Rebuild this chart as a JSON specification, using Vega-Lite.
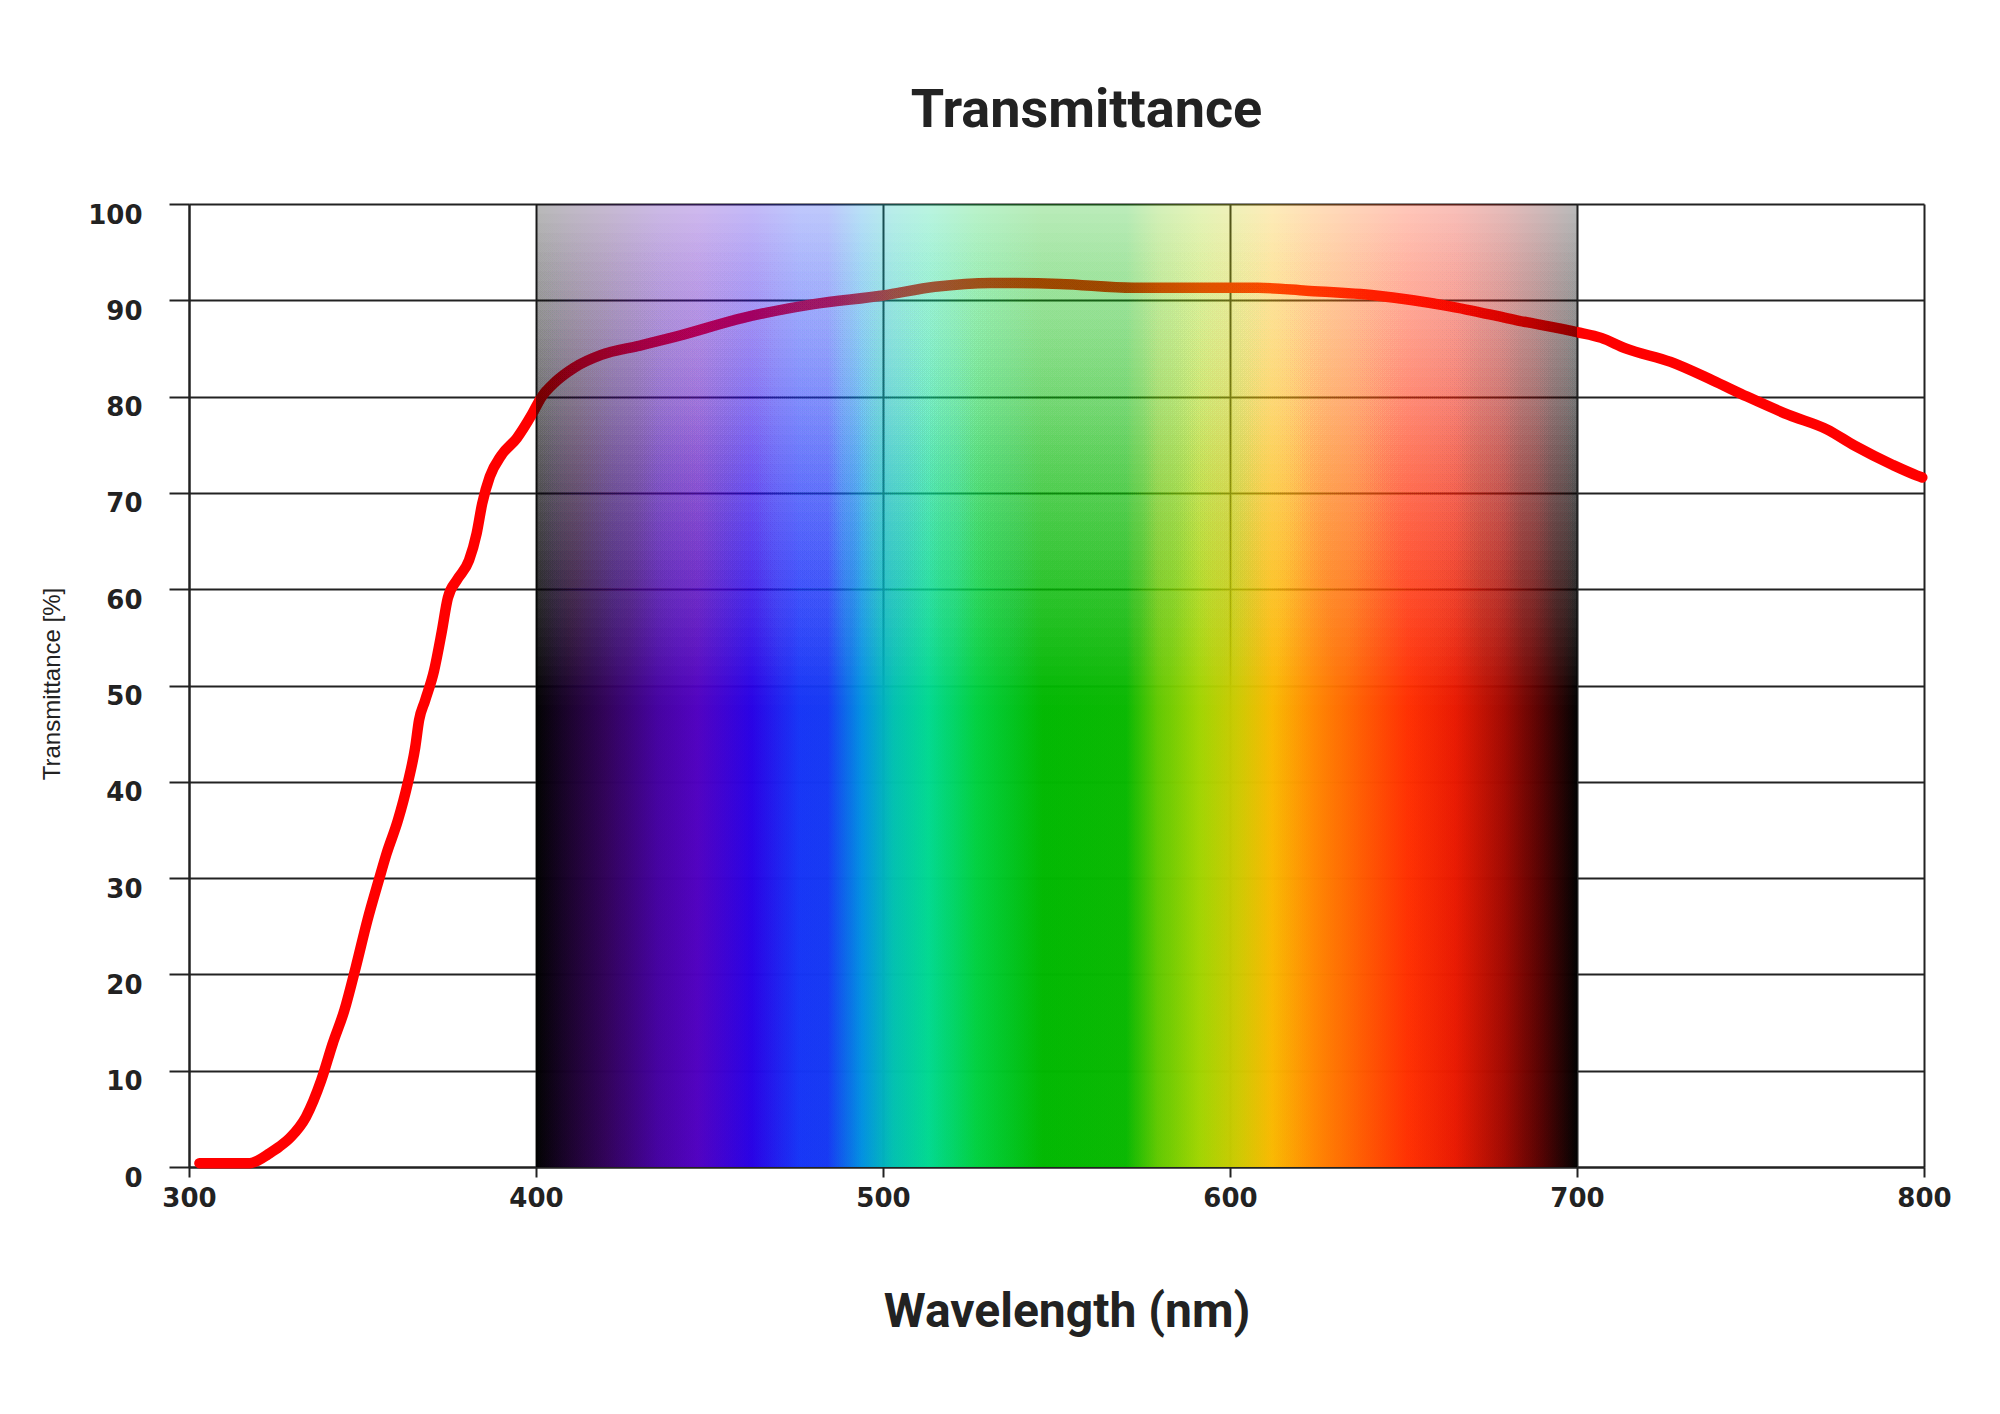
{
  "$schema": "https://vega.github.io/schema/vega-lite/v6.json",
  "description": "Transmittance curve over the visible spectrum.",
  "width": 1735,
  "height": 963,
  "autosize": {"type": "none"},
  "padding": {"left": 189, "top": 204, "right": 76, "bottom": 247},
  "background": "white",
  "title": {
    "text": "Transmittance",
    "font": "Roboto",
    "fontSize": 54,
    "fontWeight": "bold",
    "color": "#222222",
    "anchor": "middle",
    "dx": 30,
    "offset": 64
  },
  "datasets": {
    "curve": [
      {"wl": 303, "t": 0.4}, {"wl": 310, "t": 0.4}, {"wl": 317.5, "t": 0.4},
      {"wl": 320, "t": 0.7}, {"wl": 322.7, "t": 1.3}, {"wl": 326, "t": 2.1},
      {"wl": 329.3, "t": 3.1}, {"wl": 333.7, "t": 5.2}, {"wl": 338.1, "t": 9},
      {"wl": 341.4, "t": 12.8}, {"wl": 344.8, "t": 16.3}, {"wl": 348.1, "t": 20.8},
      {"wl": 351.4, "t": 25.6}, {"wl": 354.7, "t": 29.8}, {"wl": 356.9, "t": 32.5},
      {"wl": 360.2, "t": 36}, {"wl": 363, "t": 39.8}, {"wl": 365.2, "t": 43.6},
      {"wl": 366.3, "t": 46.4}, {"wl": 368, "t": 48.4}, {"wl": 370.6, "t": 51.5},
      {"wl": 372.8, "t": 55.5}, {"wl": 374.6, "t": 59.1}, {"wl": 377.3, "t": 61},
      {"wl": 380.7, "t": 63}, {"wl": 382.9, "t": 65.8}, {"wl": 384.5, "t": 68.9},
      {"wl": 386.7, "t": 71.7}, {"wl": 390, "t": 73.9}, {"wl": 394.5, "t": 75.7},
      {"wl": 398.9, "t": 78.2}, {"wl": 401.5, "t": 79.9}, {"wl": 405.5, "t": 81.5},
      {"wl": 411, "t": 83}, {"wl": 418.6, "t": 84.3}, {"wl": 430, "t": 85.3},
      {"wl": 440, "t": 86.2}, {"wl": 460, "t": 88.2}, {"wl": 480, "t": 89.6},
      {"wl": 500, "t": 90.5}, {"wl": 515, "t": 91.4}, {"wl": 531, "t": 91.8},
      {"wl": 551, "t": 91.7}, {"wl": 572, "t": 91.3}, {"wl": 592, "t": 91.3},
      {"wl": 608, "t": 91.3}, {"wl": 622, "t": 91}, {"wl": 642, "t": 90.5},
      {"wl": 663, "t": 89.4}, {"wl": 683, "t": 87.9}, {"wl": 700, "t": 86.7},
      {"wl": 707, "t": 86.1}, {"wl": 714, "t": 85}, {"wl": 727, "t": 83.6},
      {"wl": 739, "t": 81.7}, {"wl": 749, "t": 80}, {"wl": 761, "t": 78.1},
      {"wl": 772, "t": 76.6}, {"wl": 780, "t": 74.9}, {"wl": 791, "t": 72.9},
      {"wl": 798, "t": 71.8}, {"wl": 799.5, "t": 71.6}
    ],
    "spectrum": [
      {"start": 400, "end": 700, "lo": 0, "hi": 100},
      {"start": 400, "end": 700, "lo": 0, "hi": 99},
      {"start": 400, "end": 700, "lo": 0, "hi": 98},
      {"start": 400, "end": 700, "lo": 0, "hi": 97},
      {"start": 400, "end": 700, "lo": 0, "hi": 96},
      {"start": 400, "end": 700, "lo": 0, "hi": 95},
      {"start": 400, "end": 700, "lo": 0, "hi": 94},
      {"start": 400, "end": 700, "lo": 0, "hi": 93},
      {"start": 400, "end": 700, "lo": 0, "hi": 92},
      {"start": 400, "end": 700, "lo": 0, "hi": 91},
      {"start": 400, "end": 700, "lo": 0, "hi": 90},
      {"start": 400, "end": 700, "lo": 0, "hi": 89},
      {"start": 400, "end": 700, "lo": 0, "hi": 88},
      {"start": 400, "end": 700, "lo": 0, "hi": 87},
      {"start": 400, "end": 700, "lo": 0, "hi": 86},
      {"start": 400, "end": 700, "lo": 0, "hi": 85},
      {"start": 400, "end": 700, "lo": 0, "hi": 84},
      {"start": 400, "end": 700, "lo": 0, "hi": 83},
      {"start": 400, "end": 700, "lo": 0, "hi": 82},
      {"start": 400, "end": 700, "lo": 0, "hi": 81},
      {"start": 400, "end": 700, "lo": 0, "hi": 80},
      {"start": 400, "end": 700, "lo": 0, "hi": 79},
      {"start": 400, "end": 700, "lo": 0, "hi": 78},
      {"start": 400, "end": 700, "lo": 0, "hi": 77},
      {"start": 400, "end": 700, "lo": 0, "hi": 76},
      {"start": 400, "end": 700, "lo": 0, "hi": 75},
      {"start": 400, "end": 700, "lo": 0, "hi": 74},
      {"start": 400, "end": 700, "lo": 0, "hi": 73},
      {"start": 400, "end": 700, "lo": 0, "hi": 72},
      {"start": 400, "end": 700, "lo": 0, "hi": 71},
      {"start": 400, "end": 700, "lo": 0, "hi": 70},
      {"start": 400, "end": 700, "lo": 0, "hi": 69},
      {"start": 400, "end": 700, "lo": 0, "hi": 68},
      {"start": 400, "end": 700, "lo": 0, "hi": 67},
      {"start": 400, "end": 700, "lo": 0, "hi": 66},
      {"start": 400, "end": 700, "lo": 0, "hi": 65},
      {"start": 400, "end": 700, "lo": 0, "hi": 64},
      {"start": 400, "end": 700, "lo": 0, "hi": 63},
      {"start": 400, "end": 700, "lo": 0, "hi": 62},
      {"start": 400, "end": 700, "lo": 0, "hi": 61},
      {"start": 400, "end": 700, "lo": 0, "hi": 60},
      {"start": 400, "end": 700, "lo": 0, "hi": 59},
      {"start": 400, "end": 700, "lo": 0, "hi": 58},
      {"start": 400, "end": 700, "lo": 0, "hi": 57},
      {"start": 400, "end": 700, "lo": 0, "hi": 56},
      {"start": 400, "end": 700, "lo": 0, "hi": 55},
      {"start": 400, "end": 700, "lo": 0, "hi": 54},
      {"start": 400, "end": 700, "lo": 0, "hi": 53},
      {"start": 400, "end": 700, "lo": 0, "hi": 52},
      {"start": 400, "end": 700, "lo": 0, "hi": 51},
      {"start": 400, "end": 700, "lo": 0, "hi": 50},
      {"start": 400, "end": 700, "lo": 0, "hi": 49},
      {"start": 400, "end": 700, "lo": 0, "hi": 48}
    ]
  },
  "layer": [
    {
      "data": {"name": "curve"},
      "mark": {
        "type": "line",
        "color": "#ff0000",
        "strokeWidth": 10.5,
        "strokeCap": "round",
        "strokeJoin": "round",
        "interpolate": "monotone"
      },
      "encoding": {
        "x": {
          "field": "wl",
          "type": "quantitative",
          "title": "Wavelength (nm)",
          "scale": {"domain": [300, 800], "nice": false, "zero": false},
          "axis": {"values": [300, 400, 500, 600, 700, 800]}
        },
        "y": {
          "field": "t",
          "type": "quantitative",
          "title": "Transmittance [%]",
          "scale": {"domain": [0, 100], "nice": false},
          "axis": {"values": [0, 10, 20, 30, 40, 50, 60, 70, 80, 90, 100]}
        }
      }
    },
    {
      "data": {"name": "spectrum"},
      "mark": {
        "type": "rect",
        "fill": {
          "gradient": "linear",
          "x1": 0, "y1": 0, "x2": 1, "y2": 0,
          "stops": [
            {"offset": 0, "color": "#000000"},
            {"offset": 0.033, "color": "#1a002e"},
            {"offset": 0.067, "color": "#300058"},
            {"offset": 0.117, "color": "#4400a0"},
            {"offset": 0.155, "color": "#5000c0"},
            {"offset": 0.207, "color": "#2800e4"},
            {"offset": 0.253, "color": "#1535f5"},
            {"offset": 0.28, "color": "#1538f2"},
            {"offset": 0.313, "color": "#0090e0"},
            {"offset": 0.343, "color": "#00c0b0"},
            {"offset": 0.377, "color": "#00d890"},
            {"offset": 0.423, "color": "#00d040"},
            {"offset": 0.487, "color": "#00b800"},
            {"offset": 0.567, "color": "#08b800"},
            {"offset": 0.597, "color": "#60c800"},
            {"offset": 0.637, "color": "#a0d400"},
            {"offset": 0.677, "color": "#d0c800"},
            {"offset": 0.707, "color": "#f8b800"},
            {"offset": 0.747, "color": "#ff8800"},
            {"offset": 0.793, "color": "#ff5a00"},
            {"offset": 0.837, "color": "#ff3000"},
            {"offset": 0.883, "color": "#e81800"},
            {"offset": 0.93, "color": "#a00800"},
            {"offset": 0.967, "color": "#500000"},
            {"offset": 1, "color": "#000000"}
          ]
        }
      },
      "encoding": {
        "x": {"field": "start", "type": "quantitative", "title": "Wavelength (nm)"},
        "x2": {"field": "end"},
        "y": {"field": "lo", "type": "quantitative", "title": "Transmittance [%]"},
        "y2": {"field": "hi"},
        "opacity": {
          "field": "hi",
          "type": "quantitative",
          "legend": null,
          "scale": {
            "domain": [48, 49, 50, 51, 52, 53, 54, 55, 57, 60, 65, 70, 80, 90, 99, 100],
            "range": [0.35, 0.32, 0.33, 0.2396, 0.1933, 0.162, 0.1394, 0.1223, 0.0983, 0.0759, 0.055, 0.0432, 0.0301, 0.0232, 0.0192, 0.28]
          }
        }
      }
    }
  ],
  "config": {
    "view": {"stroke": null},
    "axis": {
      "grid": true,
      "gridColor": "#222222",
      "gridWidth": 2,
      "gridOpacity": 1,
      "domainColor": "#222222",
      "domainWidth": 2,
      "tickColor": "#222222",
      "tickWidth": 2,
      "labelFont": "DejaVu Sans",
      "labelFontWeight": "bold",
      "labelFontSize": 26,
      "labelColor": "#222222",
      "labelFlush": false,
      "labelOverlap": false
    },
    "axisX": {
      "tickSize": 10,
      "labelPadding": 8,
      "titleFont": "Roboto",
      "titleFontSize": 48,
      "titleFontWeight": "bold",
      "titleColor": "#222222",
      "titleX": 877.5,
      "titleY": 159,
      "titleBaseline": "alphabetic",
      "titleAlign": "center"
    },
    "axisY": {
      "tickSize": 20,
      "labelPadding": 27,
      "labelOffset": 11,
      "labelBaseline": "middle",
      "titleFont": "Liberation Sans",
      "titleFontSize": 24,
      "titleFontWeight": "normal",
      "titleColor": "#222222",
      "titleX": -137,
      "titleY": 479.5,
      "titleAngle": -90,
      "titleBaseline": "middle",
      "titleAlign": "center"
    }
  }
}
